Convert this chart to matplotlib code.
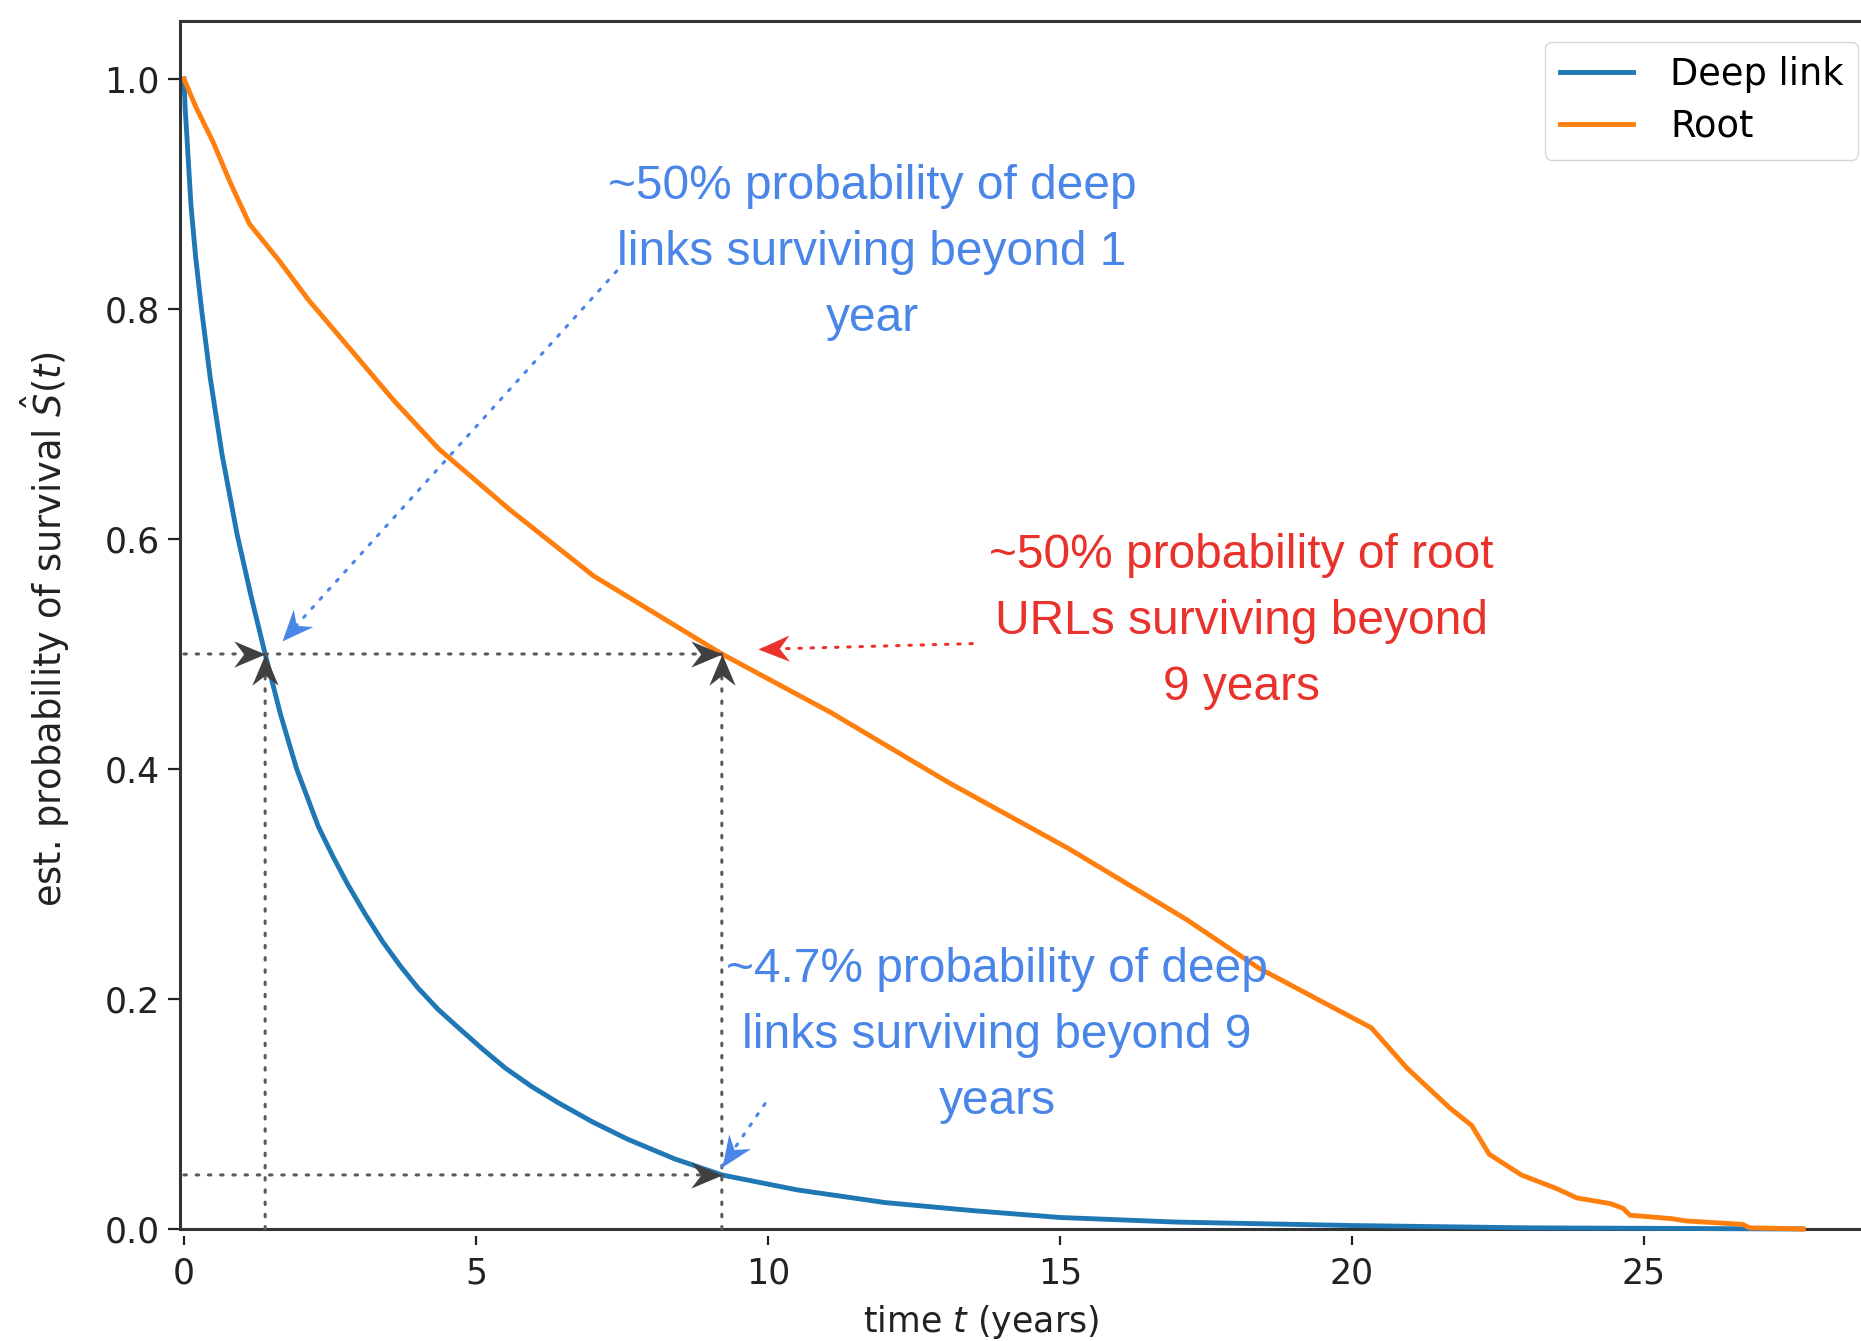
import matplotlib
matplotlib.use("Agg")
import matplotlib.pyplot as plt
import numpy as np
from matplotlib.path import Path
from matplotlib.markers import MarkerStyle
from matplotlib.transforms import Affine2D

# Kaplan-Meier survival estimates
deep_t = [0, 0.02, 0.05, 0.12, 0.2, 0.3, 0.45, 0.65, 0.91, 1.15, 1.39, 1.65, 1.93, 2.3, 2.55, 2.8,
          3.1, 3.4, 3.7, 4.0, 4.35, 4.7, 5.1, 5.5, 5.95, 6.4, 7.0, 7.6, 8.4, 9.21, 10.5, 12.0, 13.5,
          15.0, 17.0, 20.0, 23.0, 27.7]
deep_s = [1.0, 0.975, 0.95, 0.89, 0.845, 0.80, 0.74, 0.674, 0.604, 0.55, 0.50, 0.448, 0.40, 0.35,
          0.324, 0.30, 0.274, 0.25, 0.229, 0.21, 0.191, 0.175, 0.157, 0.14, 0.124, 0.11, 0.093,
          0.078, 0.061, 0.047, 0.034, 0.023, 0.016, 0.010, 0.006, 0.003, 0.001, 0.0]

root_t = [0, 0.2, 0.5, 0.8, 1.12, 1.63, 2.13, 2.95, 3.6, 4.37, 5.59, 7.01, 9.21, 11.08, 13.1, 15.14,
          17.17, 18.4, 19.4, 20.33, 20.94, 21.68, 22.05, 22.35, 22.9, 23.51, 23.85, 24.43, 24.64,
          24.76, 25.47, 25.72, 26.69, 26.81, 27.73]
root_s = [1.0, 0.976, 0.945, 0.909, 0.874, 0.842, 0.808, 0.759, 0.72, 0.678, 0.625, 0.568, 0.50,
          0.449, 0.388, 0.331, 0.269, 0.227, 0.20, 0.175, 0.14, 0.105, 0.09, 0.065, 0.047, 0.035,
          0.027, 0.022, 0.018, 0.012, 0.009, 0.007, 0.004, 0.001, 0.0]

# marked points
t_deep50, t_root50 = 1.39, 9.21
s_half, s_deep9 = 0.5, 0.047

W, H = 1861, 1341
fig = plt.figure(figsize=(W / 100, H / 100), dpi=100)
xmin, xmax = -0.068, 29.0
ax = fig.add_axes([180 / W, (H - 1236) / H, (xmax - xmin) * 58.4 / W, 1215 / H])

ax.plot(deep_t, deep_s, color='#1f77b4', lw=3.5, label='Deep link')
ax.plot(root_t, root_s, color='#ff7f0e', lw=3.5, label='Root')

ax.set_xlim(xmin, xmax)
ax.set_ylim(-0.0061, 1.0504)
ax.set_xticks([0, 5, 10, 15, 20, 25])
ax.set_yticks([0.0, 0.2, 0.4, 0.6, 0.8, 1.0])

spine_c = '#333333'
for s in ax.spines.values():
    s.set_linewidth(2.2)
    s.set_color(spine_c)
ax.spines['bottom'].set_visible(False)
ax.spines['left'].set_bounds(0, 1.0504)
ax.axhline(0, color=spine_c, lw=2.2, zorder=1)
ax.tick_params(axis='y', length=8.5, width=1.6, pad=6, labelsize=25, colors='#222222')
ax.tick_params(axis='x', length=6.5, width=1.6, pad=8, labelsize=25, colors='#222222')

ax.set_xlabel('time $t$ (years)', fontsize=25, color='#222222')
ax.xaxis.set_label_coords((981 - 180) / 1697.6, -0.055)
ax.set_ylabel(r'est. probability of survival $\hat{S}(t)$', fontsize=26.5, color='#222222')
ax.yaxis.set_label_coords((72 - 180) / 1697.6, 0.5)

ax.legend(loc='upper left', bbox_to_anchor=(1545 / W, 1 - 41.5 / H), bbox_transform=fig.transFigure,
          borderaxespad=0, fontsize=26.5, labelspacing=0.4, handletextpad=1.0)

grey = '#404040'
blue_txt = '#4a86e8'
red_txt = '#e8322b'

# notched arrow head, tip at the origin, pointing along +x
head_path = Path([(0, 0), (-1, 0.42), (-0.68, 0), (-1, -0.42), (0, 0)],
                 [Path.MOVETO, Path.LINETO, Path.LINETO, Path.LINETO, Path.CLOSEPOLY])


def arrow(xy, xytext, color, dots=None):
    ax.annotate('', xy=xy, xytext=xytext,
                arrowprops=dict(arrowstyle='-', color=dots or color, lw=2.2,
                                linestyle=(0, (0.8, 3.2)), capstyle='round',
                                shrinkA=0, shrinkB=0))
    p0 = ax.transData.transform(xytext)
    p1 = ax.transData.transform(xy)
    ang = np.degrees(np.arctan2(p1[1] - p0[1], p1[0] - p0[0]))
    m = MarkerStyle(head_path, transform=Affine2D().rotate_deg(ang))
    ax.plot([xy[0]], [xy[1]], marker=m, ms=45, color=color, mew=0, ls='none', zorder=4)


# guide lines
arrow((t_deep50, s_half), (0, s_half), grey, '#5a5a5a')
arrow((t_root50, s_half), (t_deep50, s_half), grey, '#5a5a5a')
arrow((t_deep50, s_half), (t_deep50, 0), grey, '#5a5a5a')
arrow((t_root50, s_half), (t_root50, 0), grey, '#5a5a5a')
arrow((t_root50, s_deep9), (0, s_deep9), grey, '#5a5a5a')

# callouts
arrow((1.68, 0.511), (7.41, 0.833), blue_txt)
arrow((9.21, 0.054), (9.95, 0.109), blue_txt)
arrow((9.83, 0.504), (13.5, 0.509), red_txt)

txt = dict(ha='center', va='center', fontsize=34.5, family='Liberation Sans', linespacing=1.6)
ax.text(11.78, 0.849, '~50% probability of deep\nlinks surviving beyond 1\nyear', color=blue_txt, **txt)
ax.text(18.1, 0.528, '~50% probability of root\nURLs surviving beyond\n9 years', color=red_txt, **txt)
ax.text(13.92, 0.168, '~4.7% probability of deep\nlinks surviving beyond 9\nyears', color=blue_txt, **txt)

fig.savefig('out.png', dpi=100)
